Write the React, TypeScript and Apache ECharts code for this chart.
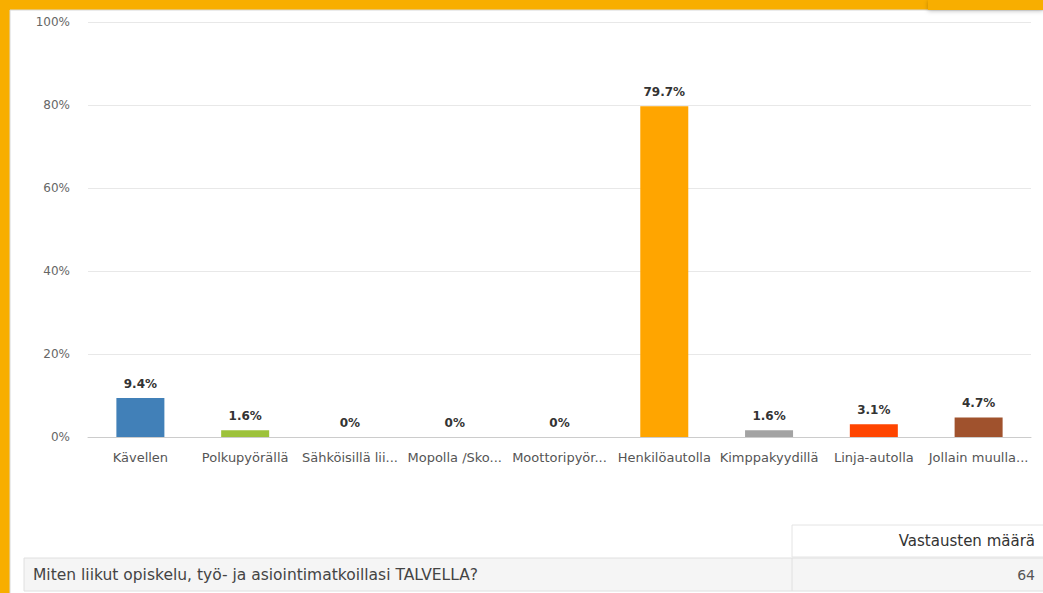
import React, { useEffect, useRef } from "react";
import * as echarts from "echarts";

const categories = [
  "Kävellen",
  "Polkupyörällä",
  "Sähköisillä lii...",
  "Mopolla /Sko...",
  "Moottoripyör...",
  "Henkilöautolla",
  "Kimppakyydillä",
  "Linja-autolla",
  "Jollain muulla...",
];
const values = [9.4, 1.6, 0, 0, 0, 79.7, 1.6, 3.1, 4.7];
const barColors = [
  "#4180B8",
  "#9DC23B",
  "#7E6BB0",
  "#3DB1C8",
  "#E0C02A",
  "#FFA500",
  "#A3A3A3",
  "#FF4500",
  "#A0522D",
];
const yTicks = [0, 20, 40, 60, 80, 100];
const tableHeader = "Vastausten määrä";
const questionText = "Miten liikut opiskelu, työ- ja asiointimatkoillasi TALVELLA?";
const responseCount = "64";

export default function App() {
  const ref = useRef<HTMLDivElement>(null);
  useEffect(() => {
    if (!ref.current) return;
    const chart = echarts.init(ref.current, null, { renderer: "svg" });
    const font = "'DejaVu Sans', sans-serif";
    chart.setOption({
      animation: false,
      backgroundColor: "#F8AE00",
      textStyle: { fontFamily: font },
      graphic: [
        {
          type: "rect",
          z: -10,
          shape: { x: 10, y: 10, width: 1040, height: 600 },
          style: { fill: "#ffffff", stroke: "#d8d8d8", lineWidth: 1 },
        },
        {
          type: "rect",
          z: -9,
          shape: { x: 928, y: 0, width: 115, height: 10 },
          style: {
            fill: "#F8AE00",
            shadowBlur: 4,
            shadowColor: "rgba(0,0,0,0.25)",
            shadowOffsetY: 1,
          },
        },
        // table header cell
        {
          type: "rect",
          shape: { x: 792, y: 525, width: 252, height: 32 },
          style: { fill: "#ffffff", stroke: "#e4e4e4", lineWidth: 1 },
        },
        {
          type: "text",
          x: 1035,
          y: 541,
          style: {
            text: tableHeader,
            fill: "#333333",
            font: `15px ${font}`,
            align: "right",
            verticalAlign: "middle",
          },
        },
        // table row
        {
          type: "rect",
          shape: { x: 24, y: 558, width: 1020, height: 33 },
          style: { fill: "#f5f5f5", stroke: "#e0e0e0", lineWidth: 1 },
        },
        {
          type: "line",
          shape: { x1: 792, y1: 558, x2: 792, y2: 591 },
          style: { stroke: "#e0e0e0", lineWidth: 1 },
        },
        {
          type: "text",
          x: 33,
          y: 575,
          style: {
            text: questionText,
            fill: "#444444",
            font: `15.5px ${font}`,
            align: "left",
            verticalAlign: "middle",
          },
        },
        {
          type: "text",
          x: 1035,
          y: 575,
          style: {
            text: responseCount,
            fill: "#555555",
            font: `14px ${font}`,
            align: "right",
            verticalAlign: "middle",
          },
        },
      ],
      grid: { left: 88, right: 12, top: 22, bottom: 156, containLabel: false },
      xAxis: {
        type: "category",
        data: categories,
        axisTick: { show: false },
        axisLine: { lineStyle: { color: "#cccccc", width: 1 } },
        axisLabel: {
          color: "#555555",
          fontSize: 13,
          margin: 14,
          interval: 0,
          fontFamily: font,
        },
      },
      yAxis: {
        type: "value",
        min: yTicks[0],
        max: yTicks[yTicks.length - 1],
        interval: 20,
        axisLine: { show: false },
        axisTick: { show: false },
        axisLabel: {
          formatter: "{value}%",
          color: "#666666",
          fontSize: 12,
          margin: 18,
          fontFamily: font,
        },
        splitLine: { lineStyle: { color: "#e8e8e8", width: 1 } },
      },
      series: [
        {
          type: "bar",
          barWidth: 48,
          data: values.map((v, i) => ({
            value: v,
            itemStyle: { color: barColors[i] },
          })),
          label: {
            show: true,
            position: "top",
            distance: 8,
            formatter: "{c}%",
            color: "#333333",
            fontSize: 12,
            fontWeight: "bold",
            fontFamily: font,
          },
        },
      ],
    });
    return () => chart.dispose();
  }, []);
  return (
    <div
      ref={ref}
      style={{ position: "fixed", left: 0, top: 0, width: 1043, height: 593 }}
    />
  );
}
